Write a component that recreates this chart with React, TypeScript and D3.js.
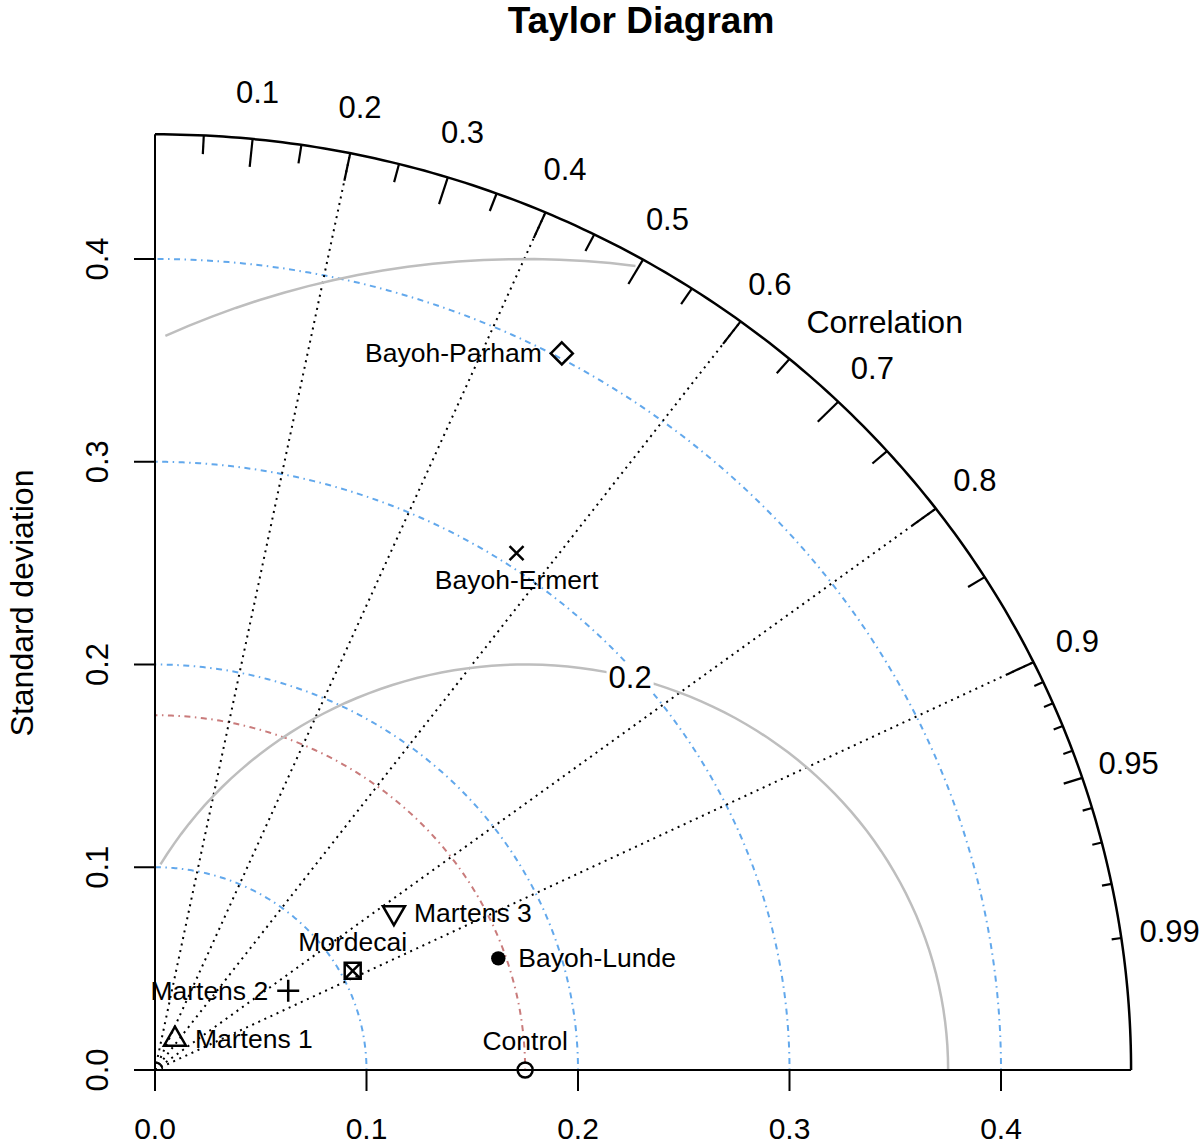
import React, { useEffect, useRef } from 'react'
import { select, scaleLinear, line, range } from 'd3'

// model results (standard deviation and correlation with the reference)
const modelNames = ['Bayoh-Parham', 'Bayoh-Ermert', 'Martens 3', 'Mordecai', 'Bayoh-Lunde', 'Martens 2', 'Martens 1', 'Control']
const modelSd = [0.4024, 0.3069, 0.1371, 0.1055, 0.1714, 0.0741, 0.0178, 0.175]
const modelCor = [0.478, 0.557, 0.824, 0.886, 0.947, 0.85, 0.53, 1.0]
const modelPch = ['diamond', 'cross', 'triangleDown', 'squareX', 'dot', 'plus', 'triangle', 'circle']
const labelPos = ['left', 'below', 'right', 'above', 'right', 'left', 'right', 'above']

const refSd = 0.175
const maxSd = 0.4615
const sdArcs = [0.1, 0.2, 0.3, 0.4]
const rmsArcs = [0.2, 0.4]
const originArc = [0.0035]
const corLines = [0.2, 0.4, 0.6, 0.8, 0.9]
const bigTicks = [0.1, 0.2, 0.3, 0.4, 0.5, 0.6, 0.7, 0.8, 0.9]
const medTicks = [0.05, 0.15, 0.25, 0.35, 0.45, 0.55, 0.65, 0.75, 0.85, 0.95]
const smallTicks = [0.91, 0.92, 0.93, 0.94, 0.96, 0.97, 0.98, 0.99]
const corLabels = [0.1, 0.2, 0.3, 0.4, 0.5, 0.6, 0.7, 0.8, 0.9, 0.95, 0.99]
const sdTicks = [0, 0.1, 0.2, 0.3, 0.4]

const FONT = "'Liberation Sans', Arial, Helvetica, sans-serif"

export default function App() {
  const svgRef = useRef<SVGSVGElement>(null)

  useEffect(() => {
    const svg = select(svgRef.current)
    svg.selectAll('*').remove()

    const x = scaleLinear().domain([0, 0.4]).range([155, 1001])
    const y = scaleLinear().domain([0, 0.4]).range([1070, 259])
    const polar = (r: number, t: number): [number, number] => [x(r * Math.cos(t)), y(r * Math.sin(t))]
    const path = line()
    const quarter = (r: number) => path(range(181).map(i => polar(r, (Math.PI / 2) * i / 180)))

    const g = svg.append('g').attr('font-family', FONT)

    // sd arcs
    sdArcs.forEach(s => {
      g.append('path').attr('d', quarter(s)).attr('fill', 'none')
        .attr('stroke', '#62A8EC').attr('stroke-width', 2).attr('stroke-dasharray', '1.5,4.5,6,4.5')
    })
    g.append('path').attr('d', quarter(refSd)).attr('fill', 'none')
      .attr('stroke', '#C97B7B').attr('stroke-width', 2).attr('stroke-dasharray', '1.5,4.5,6,4.5')
    originArc.forEach(s => {
      g.append('path').attr('d', quarter(s)).attr('fill', 'none').attr('stroke', '#000').attr('stroke-width', 1.5)
    })

    // correlation lines
    corLines.forEach(c => {
      const t = Math.acos(c)
      g.append('line')
        .attr('x1', x(0)).attr('y1', y(0))
        .attr('x2', polar(maxSd, t)[0]).attr('y2', polar(maxSd, t)[1])
        .attr('stroke', '#000').attr('stroke-width', 2).attr('stroke-dasharray', '2,4.7')
    })

    // centred RMS arcs (sampled like plotrix)
    const ts = range(0, Math.PI, 0.03)
    rmsArcs.forEach(gm => {
      const pts = ts.map(t => [refSd + gm * Math.cos(t), gm * Math.sin(t)])
      let end = pts.findIndex(p => p[0] < 0)
      if (end === -1) end = pts.length
      let start = 0
      pts.forEach((p, i) => { if (p[0] * p[0] + p[1] * p[1] > maxSd * maxSd) start = i + 1 })
      const seg = pts.slice(start, end).map(p => [x(p[0]), y(p[1])] as [number, number])
      g.append('path').attr('d', path(seg)).attr('fill', 'none')
        .attr('stroke', '#BEBEBE').attr('stroke-width', 2.5)
      const lp = pts[44]
      if (lp[0] > 0 && lp[0] * lp[0] + lp[1] * lp[1] < maxSd * maxSd) {
        const txt = g.append('text').attr('x', x(lp[0])).attr('y', y(lp[1]))
          .attr('text-anchor', 'middle').attr('dominant-baseline', 'central')
          .attr('font-size', 31).text(String(gm))
        const bb = (txt.node() as SVGTextElement).getBBox()
        g.insert('rect', () => txt.node() as any)
          .attr('x', bb.x - 2).attr('y', bb.y + 2).attr('width', bb.width + 4).attr('height', bb.height - 4)
          .attr('fill', '#fff')
      }
    })

    // axes lines
    g.append('line').attr('x1', x(0)).attr('y1', y(0)).attr('x2', x(0)).attr('y2', y(maxSd))
      .attr('stroke', '#000').attr('stroke-width', 2)
    g.append('line').attr('x1', x(0)).attr('y1', y(0)).attr('x2', x(maxSd)).attr('y2', y(0))
      .attr('stroke', '#000').attr('stroke-width', 2)
    g.append('path').attr('d', quarter(maxSd)).attr('fill', 'none').attr('stroke', '#000').attr('stroke-width', 2.5)

    // sd axis ticks + labels
    sdTicks.forEach(s => {
      g.append('line').attr('x1', x(s)).attr('x2', x(s)).attr('y1', y(0)).attr('y2', y(0) + 21)
        .attr('stroke', '#000').attr('stroke-width', 2)
      g.append('text').attr('x', x(s)).attr('y', 1139).attr('text-anchor', 'middle')
        .attr('font-size', 30).text(s.toFixed(1))
      g.append('line').attr('x1', x(0) - 21).attr('x2', x(0)).attr('y1', y(s)).attr('y2', y(s))
        .attr('stroke', '#000').attr('stroke-width', 2)
      g.append('text').attr('x', 108).attr('y', y(s)).attr('text-anchor', 'middle')
        .attr('transform', `rotate(-90, 108, ${y(s)})`)
        .attr('font-size', 31).text(s.toFixed(1))
    })

    // correlation ticks
    const tick = (vals: number[], frac: number) => vals.forEach(c => {
      const t = Math.acos(c)
      const [x1, y1] = polar(maxSd, t)
      const [x2, y2] = polar(maxSd * (1 - frac), t)
      g.append('line').attr('x1', x1).attr('y1', y1).attr('x2', x2).attr('y2', y2)
        .attr('stroke', '#000').attr('stroke-width', 2.2)
    })
    tick(bigTicks, 0.03)
    tick(medTicks, 0.02)
    tick(smallTicks, 0.01)

    corLabels.forEach(c => {
      const [lx, ly] = polar(maxSd * 1.05, Math.acos(c))
      g.append('text').attr('x', lx).attr('y', ly).attr('text-anchor', 'middle')
        .attr('dominant-baseline', 'central').attr('font-size', 31).text(String(c))
    })
    g.append('text').attr('x', x(0.345)).attr('y', y(0.369)).attr('text-anchor', 'middle')
      .attr('dominant-baseline', 'central').attr('font-size', 32).text('Correlation')

    // titles
    g.append('text').attr('x', 641).attr('y', 33).attr('text-anchor', 'middle')
      .attr('font-size', 37).attr('font-weight', 'bold').text('Taylor Diagram')
    g.append('text').attr('x', 33).attr('y', 603).attr('text-anchor', 'middle')
      .attr('transform', 'rotate(-90, 33, 603)').attr('font-size', 32).text('Standard deviation')

    // model points
    modelNames.forEach((name, i) => {
      const t = Math.acos(modelCor[i])
      const [cx, cy] = polar(modelSd[i], t)
      const pch = modelPch[i]
      const st = { stroke: '#000', 'stroke-width': 2.5, fill: 'none' }
      const add = (tag: string, attrs: Record<string, any>) => {
        const el = g.append(tag)
        Object.entries({ ...st, ...attrs }).forEach(([k, v]) => el.attr(k, v))
      }
      if (pch === 'circle') add('circle', { cx, cy, r: 7.5 })
      if (pch === 'dot') add('circle', { cx, cy, r: 7.2, fill: '#000', stroke: 'none' })
      if (pch === 'diamond') add('path', { d: `M${cx},${cy - 11}L${cx + 11},${cy}L${cx},${cy + 11}L${cx - 11},${cy}Z` })
      if (pch === 'cross') add('path', { d: `M${cx - 7},${cy - 7}L${cx + 7},${cy + 7}M${cx - 7},${cy + 7}L${cx + 7},${cy - 7}` })
      if (pch === 'plus') add('path', { d: `M${cx - 11},${cy}L${cx + 11},${cy}M${cx},${cy - 11}L${cx},${cy + 11}` })
      if (pch === 'triangle') add('path', { d: `M${cx},${cy - 12.7}L${cx + 11},${cy + 6.35}L${cx - 11},${cy + 6.35}Z` })
      if (pch === 'triangleDown') add('path', { d: `M${cx},${cy + 12.7}L${cx + 11},${cy - 6.35}L${cx - 11},${cy - 6.35}Z` })
      if (pch === 'squareX') add('path', { d: `M${cx - 8},${cy - 8}H${cx + 8}V${cy + 8}H${cx - 8}ZM${cx - 8},${cy - 8}L${cx + 8},${cy + 8}M${cx - 8},${cy + 8}L${cx + 8},${cy - 8}` })

      const pos = labelPos[i]
      const lbl = g.append('text').attr('font-size', 26.5).text(name)
      if (pos === 'left') lbl.attr('x', cx - 20).attr('y', cy + 9).attr('text-anchor', 'end')
      if (pos === 'right') lbl.attr('x', cx + 20).attr('y', cy + 9).attr('text-anchor', 'start')
      if (pos === 'above') lbl.attr('x', cx).attr('y', cy - 20).attr('text-anchor', 'middle')
      if (pos === 'below') lbl.attr('x', cx).attr('y', cy + 36).attr('text-anchor', 'middle')
    })
  }, [])

  return (
    <svg ref={svgRef} width={1200} height={1147}
      style={{ position: 'absolute', left: 0, top: 0, background: '#fff' }} />
  )
}
